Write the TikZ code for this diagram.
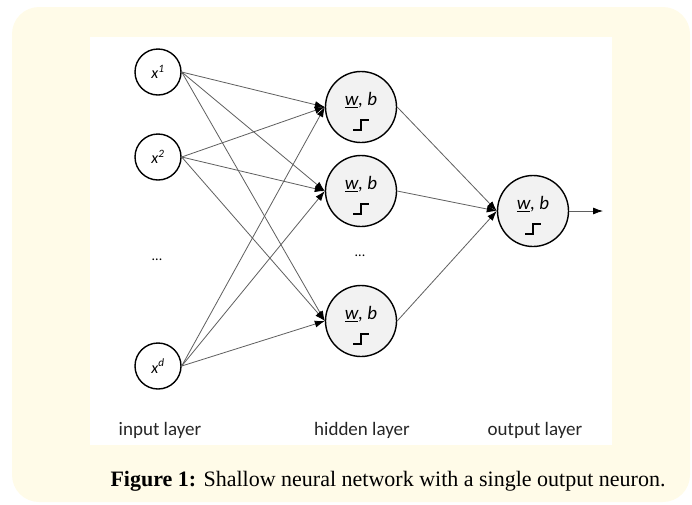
\documentclass[tikz,border=0pt]{standalone}
\usepackage{fontspec}
\setmainfont{Liberation Serif}
\newfontfamily\lblfont{Carlito}
\usetikzlibrary{arrows.meta}
\definecolor{panelyellow}{RGB}{255,251,232}
\definecolor{nodegrey}{RGB}{242,242,242}
\definecolor{edgegrey}{RGB}{95,95,95}
\tikzset{
  inputnode/.style={circle,draw=black,line width=1.4pt,fill=white,minimum size=46pt,inner sep=0pt,font=\lblfont\itshape\fontsize{16}{16}\selectfont},
  neuron/.style={circle,draw=black,line width=1.4pt,fill=nodegrey,minimum size=71pt,inner sep=0pt},
  edge/.style={draw=edgegrey,line width=0.8pt,-{Latex[length=10pt,width=7pt,color=black]}},
  layerlabel/.style={font=\lblfont\fontsize{19}{19}\selectfont,text=black!85},
  dots/.style={font=\lblfont\fontsize{14}{14}\selectfont},
  wblabel/.style={font=\lblfont\itshape\fontsize{19}{19}\selectfont,inner sep=0pt}
}
\begin{document}
\begin{tikzpicture}[x=1pt,y=-1pt]
\useasboundingbox (0,0) rectangle (692,504);
\fill[panelyellow,rounded corners=27pt] (12,7) rectangle (690,502);
\fill[white] (90,37) rectangle (612,445);
% input nodes
\node[inputnode] (x1) at (158,72) {x\textsuperscript{1}};
\node[inputnode] (x2) at (158,157) {x\textsuperscript{2}};
\node[dots] (idots) at (157,260) {...};
\node[inputnode] (xd) at (158,366) {x\textsuperscript{d}};
% hidden nodes
\node[neuron] (h1) at (361,107) {};
\node[neuron] (h2) at (361,191) {};
\node[dots] (hdots) at (360,256) {...};
\node[neuron] (h3) at (361,321) {};
% output
\node[neuron] (o) at (533,211) {};
\coordinate (oend) at (603,211);
% labels inside neurons
\foreach \n in {h1,h2,h3,o}{
  \node[wblabel] at ([yshift=7pt]\n.center) {\underline{w}, b};
  \draw[line width=1.8pt] ([xshift=-8pt,yshift=-23pt]\n.center) -- ++(8,0) -- ++(0,-10) -- ++(8,0);
}
% edges
\foreach \i in {x1,x2,xd}{
  \foreach \h in {h1,h2,h3}{
    \draw[edge] (\i.east) -- (\h.west);
  }
}
\foreach \h in {h1,h2,h3}{
  \draw[edge] (\h.east) -- (o.west);
}
\draw[edge] (o.east) -- (oend);
% layer labels
\node[layerlabel] (lin) at (160,430) {input layer};
\node[layerlabel] (lhid) at (362,430) {hidden layer};
\node[layerlabel] (lout) at (535,430) {output layer};
% caption
\node[font=\fontsize{22}{22}\selectfont] (cap) at (388,481) {\textbf{Figure 1:} Shallow neural network with a single output neuron.};
\end{tikzpicture}
\end{document}
